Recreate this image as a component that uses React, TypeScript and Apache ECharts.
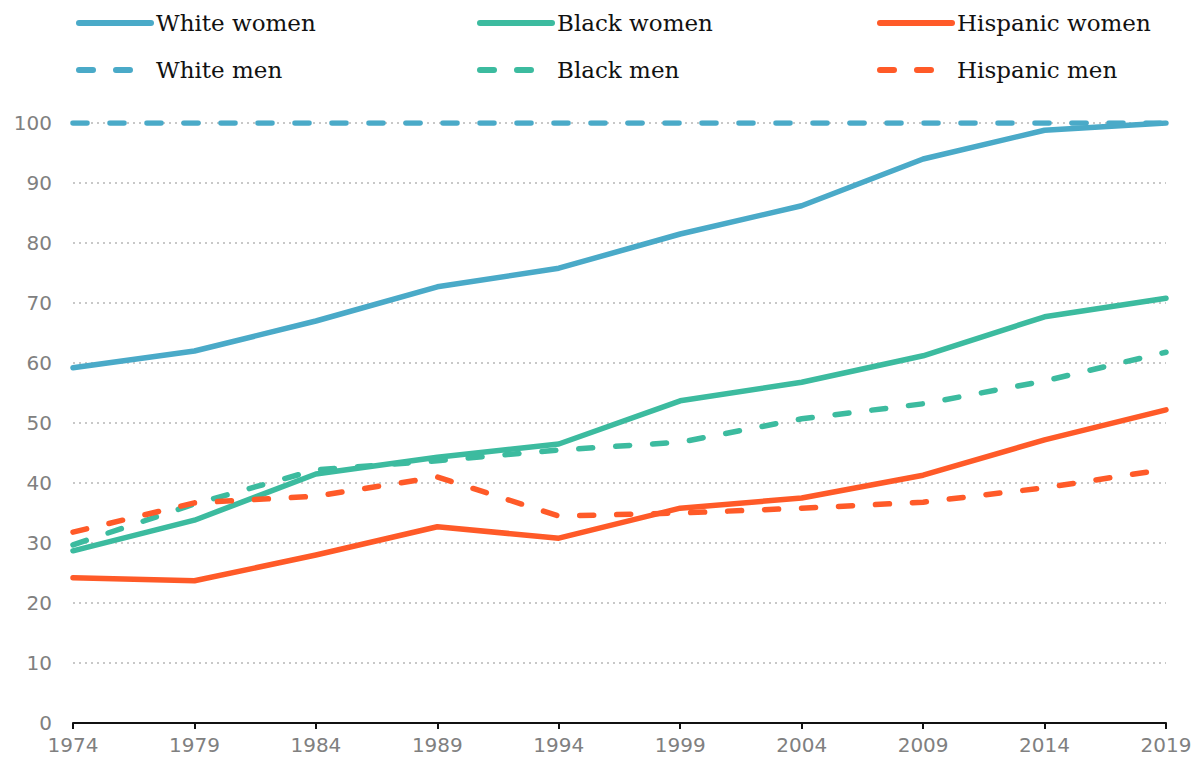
import React, { useEffect, useRef } from "react";
import * as echarts from "echarts";

const years = ["1974", "1979", "1984", "1989", "1994", "1999", "2004", "2009", "2014", "2019"];
const whiteWomen = [59.2, 62.0, 67.0, 72.7, 75.8, 81.5, 86.2, 94.0, 98.8, 100];
const blackWomen = [28.7, 33.8, 41.5, 44.3, 46.5, 53.7, 56.8, 61.2, 67.7, 70.8];
const hispanicWomen = [24.2, 23.7, 28.0, 32.7, 30.8, 35.8, 37.5, 41.3, 47.2, 52.2];
const whiteMen = [100, 100, 100, 100, 100, 100, 100, 100, 100, 100];
const blackMen = [29.7, 36.5, 42.2, 43.7, 45.5, 46.8, 50.7, 53.2, 57.0, 61.8];
const hispanicMen = [31.8, 36.7, 37.8, 41.0, 34.5, 35.0, 35.8, 36.8, 39.2, 42.3];

const BLUE = "#4aaac8";
const TEAL = "#3cbb9f";
const ORANGE = "#ff5a28";
const DASH = [14, 23];

export default function App() {
  const ref = useRef<HTMLDivElement>(null);
  useEffect(() => {
    const chart = echarts.init(ref.current!, null, { renderer: "svg" });
    const mk = (name: string, data: number[], color: string, dashed: boolean) => ({
      name,
      type: "line",
      data,
      symbol: "none",
      showSymbol: false,
      lineStyle: {
        color,
        width: 5.5,
        type: dashed ? DASH : "solid",
        cap: "round",
        join: "round",
      },
      itemStyle: { color },
    });
    const legendBase = {
      orient: "vertical",
      top: 11,
      padding: 0,
      itemWidth: 72,
      itemHeight: 14,
      itemGap: 23,
      itemStyle: { opacity: 0 },
      lineStyle: { width: 6, cap: "round" },
      textStyle: { fontFamily: "DejaVu Serif", fontSize: 23, lineHeight: 24, color: "#111" },
    };
    chart.setOption({
      animation: false,
      backgroundColor: "#fff",
      legend: [
        { ...legendBase, left: 76, data: ["White women", "White men"] },
        { ...legendBase, left: 477, data: ["Black women", "Black men"] },
        { ...legendBase, left: 877, data: ["Hispanic women", "Hispanic men"] },
      ],
      grid: { left: 73, right: 32, top: 123, bottom: 41 },
      xAxis: {
        type: "category",
        data: years,
        boundaryGap: false,
        axisLine: { lineStyle: { color: "#111", width: 2 } },
        axisTick: { show: true, length: 6, lineStyle: { color: "#111", width: 2 }, interval: 0 },
        axisLabel: { color: "#808080", fontFamily: "DejaVu Sans", fontSize: 20, margin: 12, interval: 0 },
        splitLine: { show: false },
      },
      yAxis: {
        type: "value",
        min: 0,
        max: 100,
        interval: 10,
        axisLine: { show: false },
        axisTick: { show: false },
        axisLabel: { color: "#808080", fontFamily: "DejaVu Sans", fontSize: 20, margin: 21 },
        splitLine: { lineStyle: { color: "#c8c8c8", width: 2, type: [2, 4] } },
      },
      series: [
        mk("White women", whiteWomen, BLUE, false),
        mk("Black women", blackWomen, TEAL, false),
        mk("Hispanic women", hispanicWomen, ORANGE, false),
        mk("White men", whiteMen, BLUE, true),
        mk("Black men", blackMen, TEAL, true),
        mk("Hispanic men", hispanicMen, ORANGE, true),
      ],
    });
    return () => chart.dispose();
  }, []);
  return (
    <div
      ref={ref}
      style={{ position: "absolute", left: 0, top: 0, width: 1198, height: 764 }}
    />
  );
}
